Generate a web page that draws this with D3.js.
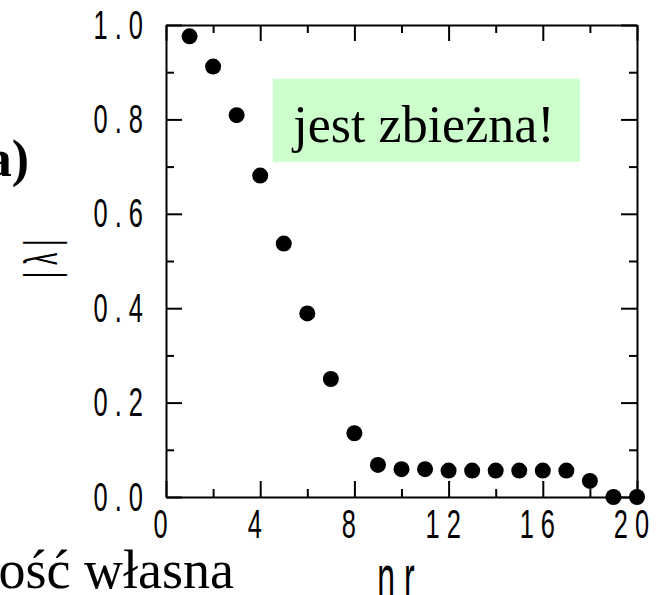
<!DOCTYPE html>
<html>
<head>
<meta charset="utf-8">
<script src="https://cdn.jsdelivr.net/npm/d3@7"></script>
<style>
  body { margin: 0; background: #fff; }
</style>
</head>
<body>
<svg id="chart" width="658" height="595"></svg>
<script>
// eigenvalue moduli |lambda| vs index nr
const nr = [1, 2, 3, 4, 5, 6, 7, 8, 9, 10, 11, 12, 13, 14, 15, 16, 17, 18, 19, 20];
const lambda = [0.976, 0.912, 0.809, 0.681, 0.537, 0.389, 0.250, 0.135, 0.068, 0.059,
                0.059, 0.056, 0.056, 0.056, 0.056, 0.056, 0.056, 0.034, 0.0, 0.0];

const xMajor = [0, 4, 8, 12, 16, 20];
const xMinor = [2, 6, 10, 14, 18];
const xTickLabels = ["0", "4", "8", "1 2", "1 6", "2 0"];
const yMajor = [0, 0.2, 0.4, 0.6, 0.8, 1.0];
const yMinor = [0.1, 0.3, 0.5, 0.7, 0.9];
const yTickLabels = ["0 . 0", "0 . 2", "0 . 4", "0 . 6", "0 . 8", "1 . 0"];

const noteText = "jest zbieżna!";
const noteBox = { x0: 4.54, x1: 17.58, y0: 0.886, y1: 0.710 };

const svg = d3.select("#chart");
const mLeft = 166, mRight = 637, mTop = 25, mBottom = 497;

const x = d3.scaleLinear().domain([0, 20]).range([mLeft, mRight]);
const y = d3.scaleLinear().domain([0, 1]).range([mBottom, mTop]);

const sx = 0.62; // condensed look of tick labels
const tickFont = "'Liberation Sans', Arial, sans-serif";

// frame + major ticks
const gBottom = svg.append("g").attr("transform", `translate(0,${mBottom})`)
  .call(d3.axisBottom(x).tickValues(xMajor).tickSize(-16).tickSizeOuter(0).tickPadding(12)
    .tickFormat((d, i) => xTickLabels[i]));
gBottom.selectAll("text")
  .attr("transform", `translate(-6,0) scale(${sx},1)`)
  .style("font-family", tickFont).style("font-size", "41px").attr("fill", "#000");

const gLeft = svg.append("g").attr("transform", `translate(${mLeft},0)`)
  .call(d3.axisLeft(y).tickValues(yMajor).tickSize(-16).tickSizeOuter(0)
    .tickFormat((d, i) => yTickLabels[i]));
gLeft.selectAll("text")
  .attr("x", -23 / sx)
  .attr("transform", `scale(${sx},1)`)
  .style("font-family", tickFont).style("font-size", "41px").attr("fill", "#000");

svg.append("g").attr("transform", `translate(0,${mTop})`)
  .call(d3.axisTop(x).tickValues(xMajor).tickSize(-16).tickSizeOuter(0).tickFormat(""));
svg.append("g").attr("transform", `translate(${mRight},0)`)
  .call(d3.axisRight(y).tickValues(yMajor).tickSize(-16).tickSizeOuter(0).tickFormat(""));

// minor ticks
const minor = [
  [d3.axisBottom(x).tickValues(xMinor), `translate(0,${mBottom})`],
  [d3.axisTop(x).tickValues(xMinor), `translate(0,${mTop})`],
  [d3.axisLeft(y).tickValues(yMinor), `translate(${mLeft},0)`],
  [d3.axisRight(y).tickValues(yMinor), `translate(${mRight},0)`]
];
minor.forEach(([ax, tr]) => {
  const g = svg.append("g").attr("transform", tr)
    .call(ax.tickSize(-8).tickSizeOuter(0).tickFormat(""));
  g.select(".domain").remove();
});

svg.selectAll(".domain, .tick line").attr("stroke", "#000").attr("stroke-width", 2);

// note box
svg.append("rect")
  .attr("x", x(noteBox.x0)).attr("y", y(noteBox.y0))
  .attr("width", x(noteBox.x1) - x(noteBox.x0))
  .attr("height", y(noteBox.y1) - y(noteBox.y0))
  .attr("fill", "#ccffcc");
svg.append("text")
  .attr("x", 424).attr("y", 142)
  .attr("text-anchor", "middle")
  .style("font-family", "'Liberation Serif', 'Times New Roman', serif")
  .style("font-size", "52px")
  .text(noteText);

// axis titles
svg.append("text")
  .attr("transform", "translate(57,259) rotate(-90) scale(0.52,1)")
  .attr("text-anchor", "middle")
  .style("font-family", tickFont).style("font-size", "47px")
  .text("| λ |");

svg.append("text")
  .attr("transform", "translate(396,600) scale(0.5,1)")
  .attr("text-anchor", "middle")
  .style("font-family", tickFont).style("font-size", "64px")
  .text("n r");

svg.append("text")
  .attr("x", 29).attr("y", 176)
  .attr("text-anchor", "end")
  .style("font-family", "'Liberation Serif', 'Times New Roman', serif")
  .style("font-size", "52px").style("font-weight", "bold")
  .text("a)");

svg.append("text")
  .attr("x", 234).attr("y", 588)
  .attr("text-anchor", "end")
  .style("font-family", "'Liberation Serif', 'Times New Roman', serif")
  .style("font-size", "54px")
  .text("wartość własna");

// points
svg.append("g").selectAll("circle")
  .data(nr)
  .join("circle")
  .attr("cx", d => x(d))
  .attr("cy", (d, i) => y(lambda[i]))
  .attr("r", 8)
  .attr("fill", "#000");
</script>
</body>
</html>
